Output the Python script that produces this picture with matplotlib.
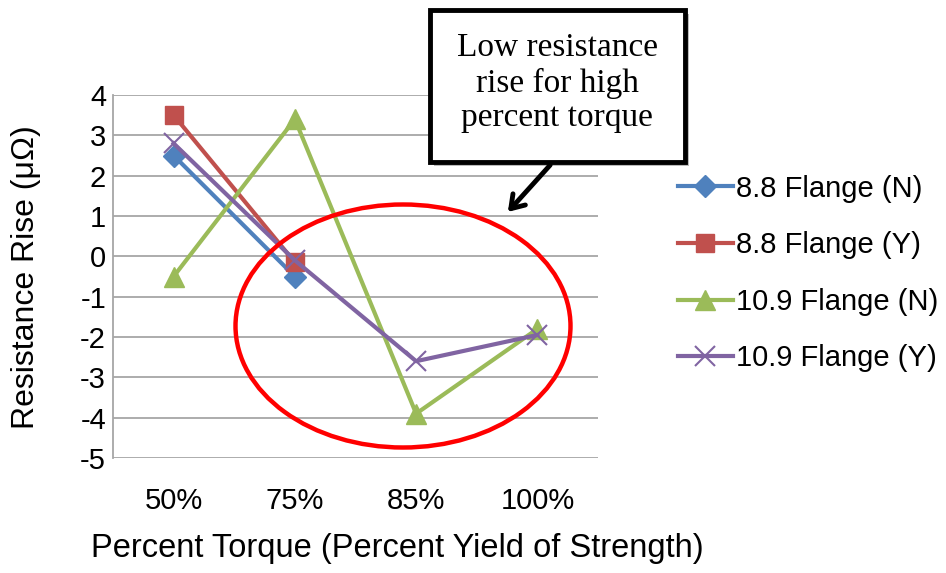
import matplotlib.pyplot as plt
from matplotlib.patches import Ellipse, Rectangle, FancyArrowPatch

categories = ['50%', '75%', '85%', '100%']
flange_88_n = [2.5, -0.5]
flange_88_y = [3.5, -0.15]
flange_109_n = [-0.5, 3.4, -3.9, -1.8]
flange_109_y = [2.8, -0.1, -2.6, -1.95]
y_ticks = list(range(-5, 5))

W, H = 946, 573


def fx(px):
    return px / W


def fy(py):
    return 1 - py / H


def main():
    plt.rcParams['font.family'] = ['Liberation Sans', 'DejaVu Sans']
    fig = plt.figure(figsize=(W / 100, H / 100), dpi=100)
    ax = fig.add_axes([fx(113), fy(458), fx(598) - fx(113), fy(95) - fy(458)])

    x = list(range(len(categories)))
    ax.plot(x[:2], flange_88_n, color='#4F81BD', lw=3, marker='D', ms=11,
            label='8.8 Flange (N)')
    ax.plot(x[:2], flange_88_y, color='#C0504D', lw=3, marker='s', ms=13,
            label='8.8 Flange (Y)')
    ax.plot(x, flange_109_n, color='#9BBB59', lw=3, marker='^', ms=15,
            label='10.9 Flange (N)')
    ax.plot(x, flange_109_y, color='#8064A2', lw=3, marker='x', ms=14,
            mew=1.5, label='10.9 Flange (Y)')

    ax.set_xlim(-0.5, 3.5)
    ax.set_ylim(-5, 4)
    ax.set_yticks(y_ticks)
    ax.set_yticklabels([str(v) if v >= 0 else '-' + str(-v) for v in y_ticks])
    ax.set_xticks(x)
    ax.set_xticklabels(categories)
    ax.tick_params(axis='both', length=0, labelsize=21, pad=5)
    ax.tick_params(axis='x', pad=21)
    ax.grid(axis='y', color='#A6A6A6', lw=1.3)
    ax.set_axisbelow(True)
    for side in ['top', 'right', 'bottom']:
        ax.spines[side].set_visible(False)
    ax.spines['left'].set_color('#A6A6A6')
    ax.spines['left'].set_linewidth(1.3)

    fig.text(fx(26), fy(277), 'Resistance Rise (\u03bc\u03a9)', rotation=90,
             ha='center', va='center', fontsize=23)
    fig.text(fx(397), fy(548), 'Percent Torque (Percent Yield of Strength)',
             ha='center', va='center', fontsize=23.5)

    ax.legend(loc='upper left', bbox_to_anchor=(fx(663), fy(160)),
              bbox_transform=fig.transFigure, frameon=False, fontsize=21,
              handlelength=1.9, handletextpad=0.1, labelspacing=0.98,
              borderpad=0)

    # red ellipse around the high torque points
    fig.patches.append(Ellipse((fx(403), fy(326)), fx(335), 243 / H,
                               transform=fig.transFigure, fill=False,
                               edgecolor='#FF0000', lw=3.2))

    # callout box with shadow
    fig.patches.append(Rectangle((fx(434), fy(166)), fx(255), 152 / H,
                                 transform=fig.transFigure, facecolor='#BBBBBB',
                                 edgecolor='none', zorder=4))
    fig.patches.append(Rectangle((fx(430), fy(162)), fx(255), 152 / H,
                                 transform=fig.transFigure, facecolor='white',
                                 edgecolor='black', lw=3.5, zorder=5))
    fig.text(fx(557), fy(83), 'Low resistance\nrise for high\npercent torque',
             ha='center', va='center', fontsize=24, linespacing=1.17,
             family=['Liberation Serif', 'DejaVu Serif'], zorder=6)
    fig.patches.append(FancyArrowPatch((fx(552), fy(163)), (fx(506), fy(214)),
                                       transform=fig.transFigure,
                                       arrowstyle='->,head_width=6,head_length=9',
                                       color='black', lw=3.5, zorder=5))

    fig.savefig('out.png', dpi=100)


if __name__ == '__main__':
    main()
